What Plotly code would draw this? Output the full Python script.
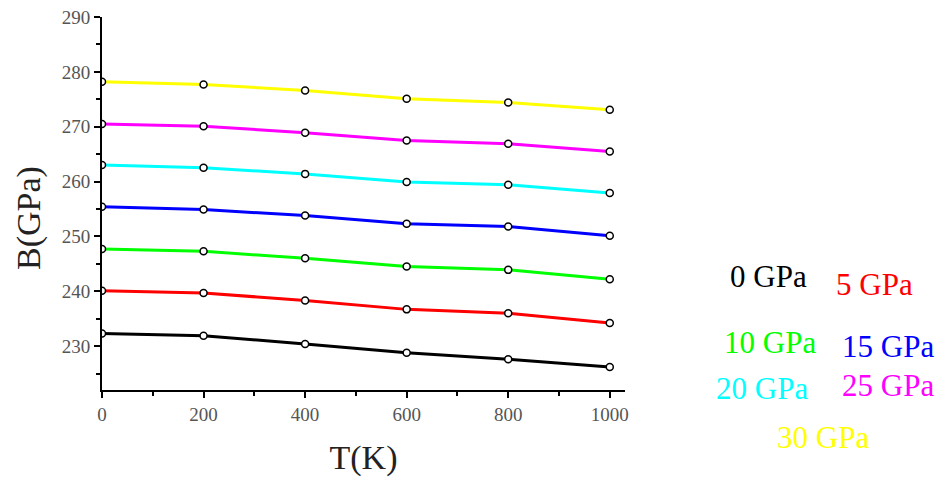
import plotly.graph_objects as go

# Bulk modulus B (GPa) versus temperature T (K) at several pressures
temperature = [0, 200, 400, 600, 800, 1000]
pressure_labels = ["0 GPa", "5 GPa", "10 GPa", "15 GPa", "20 GPa", "25 GPa", "30 GPa"]
b_0gpa = [232.3, 231.9, 230.4, 228.8, 227.6, 226.2]
b_5gpa = [240.1, 239.7, 238.3, 236.7, 236.0, 234.2]
b_10gpa = [247.7, 247.3, 246.0, 244.5, 243.9, 242.2]
b_15gpa = [255.4, 254.9, 253.8, 252.3, 251.8, 250.1]
b_20gpa = [263.0, 262.5, 261.4, 259.9, 259.4, 257.9]
b_25gpa = [270.5, 270.1, 268.9, 267.5, 266.9, 265.5]
b_30gpa = [278.2, 277.7, 276.6, 275.1, 274.4, 273.1]

series = [b_0gpa, b_5gpa, b_10gpa, b_15gpa, b_20gpa, b_25gpa, b_30gpa]
colors = ["#000000", "#FF0000", "#00FF00", "#0000FF", "#00FFFF", "#FF00FF", "#FFFF00"]

W, H = 948, 477
ML, MR, MT, MB = 102, 323, 17, 87
PW, PH = W - ML - MR, H - MT - MB

# colour key to the right of the axes: left edge / vertical centre in pixels
label_px = [(728, 276), (834, 284), (722, 342), (840, 346),
            (714, 388), (840, 385), (775, 437)]

fig = go.Figure()
for vals, col in zip(series, colors):
    fig.add_trace(go.Scatter(
        x=temperature, y=vals, mode="lines+markers",
        line=dict(color=col, width=3),
        marker=dict(symbol="circle", size=7, color="white",
                    line=dict(color="black", width=1.5)),
        showlegend=False,
    ))

for text, col, (px, py) in zip(pressure_labels, colors, label_px):
    fig.add_annotation(
        x=(px - ML) / PW, y=(H - MB - py) / PH, xref="paper", yref="paper",
        text=text, showarrow=False, xanchor="left", yanchor="middle",
        font=dict(family="Liberation Serif", size=31, color=col),
    )

# vertical axis title, set a little below the axis midpoint
fig.add_annotation(
    x=(29 - ML) / PW, y=(H - MB - 218) / PH, xref="paper", yref="paper",
    text="B(GPa)", textangle=-90, showarrow=False,
    xanchor="center", yanchor="middle",
    font=dict(family="Liberation Serif", size=34, color="#222"),
)

tick_font = dict(family="Liberation Serif", size=19, color="#555555")

fig.update_layout(
    width=W, height=H,
    margin=dict(l=ML, r=MR, t=MT, b=MB),
    paper_bgcolor="white", plot_bgcolor="white",
    xaxis=dict(
        range=[0, 1030], tickmode="linear", tick0=0, dtick=200,
        ticks="outside", ticklen=6, tickwidth=1.5, tickcolor="black",
        minor=dict(dtick=100, ticks="outside", ticklen=4, tickcolor="black"),
        showline=True, linewidth=2, linecolor="black", automargin=False,
        showgrid=False, zeroline=False, tickfont=tick_font,
        title=dict(text="T(K)", font=dict(family="Liberation Serif", size=34, color="#222"),
                   standoff=24),
    ),
    xaxis2=dict(
        overlaying="x", side="top", matches="x", range=[0, 1030],
        tickmode="linear", tick0=0, dtick=200, automargin=False,
        ticks="inside", ticklen=6, tickwidth=1.5, tickcolor="black",
        minor=dict(dtick=100, ticks="inside", ticklen=4, tickcolor="black"),
        showline=True, linewidth=2, linecolor="black",
        showgrid=False, zeroline=False, showticklabels=False,
    ),
    yaxis=dict(
        range=[222, 290], tickmode="linear", tick0=230, dtick=10,
        ticks="outside", ticklen=6, tickwidth=1.5, tickcolor="black",
        minor=dict(dtick=5, ticks="outside", ticklen=4, tickcolor="black"),
        showline=True, linewidth=2, linecolor="black", automargin=False,
        showgrid=False, zeroline=False, tickfont=tick_font,
    ),
    yaxis2=dict(
        overlaying="y", side="right", matches="y", range=[222, 290],
        tickmode="linear", tick0=230, dtick=10, automargin=False,
        ticks="inside", ticklen=6, tickwidth=1.5, tickcolor="black",
        minor=dict(dtick=5, ticks="inside", ticklen=4, tickcolor="black"),
        showline=True, linewidth=2, linecolor="black",
        showgrid=False, zeroline=False, showticklabels=False,
    ),
)

fig.write_html("out.html")
